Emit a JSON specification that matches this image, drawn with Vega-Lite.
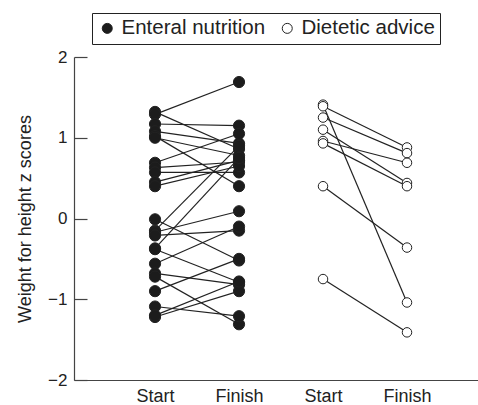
{
  "$schema": "https://vega.github.io/schema/vega-lite/v6.json",
  "width": 404,
  "height": 323,
  "autosize": {"type": "none"},
  "padding": {"left": 74, "top": 57, "right": 0, "bottom": 25},
  "background": "white",
  "config": {
    "view": {"stroke": null},
    "font": "Liberation Sans"
  },
  "data": {
    "values": [
      {"id": "E1", "group": "Enteral nutrition", "col": "ES", "z": 1.32},
      {"id": "E1", "group": "Enteral nutrition", "col": "EF", "z": 0.86},
      {"id": "E2", "group": "Enteral nutrition", "col": "ES", "z": 1.29},
      {"id": "E2", "group": "Enteral nutrition", "col": "EF", "z": 1.69},
      {"id": "E3", "group": "Enteral nutrition", "col": "ES", "z": 1.17},
      {"id": "E3", "group": "Enteral nutrition", "col": "EF", "z": 1.15},
      {"id": "E4", "group": "Enteral nutrition", "col": "ES", "z": 1.08},
      {"id": "E4", "group": "Enteral nutrition", "col": "EF", "z": 0.93},
      {"id": "E5", "group": "Enteral nutrition", "col": "ES", "z": 1.02},
      {"id": "E5", "group": "Enteral nutrition", "col": "EF", "z": 0.40},
      {"id": "E6", "group": "Enteral nutrition", "col": "ES", "z": 1.0},
      {"id": "E6", "group": "Enteral nutrition", "col": "EF", "z": 0.78},
      {"id": "E7", "group": "Enteral nutrition", "col": "ES", "z": 0.69},
      {"id": "E7", "group": "Enteral nutrition", "col": "EF", "z": 1.05},
      {"id": "E8", "group": "Enteral nutrition", "col": "ES", "z": 0.63},
      {"id": "E8", "group": "Enteral nutrition", "col": "EF", "z": 0.70},
      {"id": "E9", "group": "Enteral nutrition", "col": "ES", "z": 0.57},
      {"id": "E9", "group": "Enteral nutrition", "col": "EF", "z": 0.57},
      {"id": "E10", "group": "Enteral nutrition", "col": "ES", "z": 0.45},
      {"id": "E10", "group": "Enteral nutrition", "col": "EF", "z": 0.72},
      {"id": "E11", "group": "Enteral nutrition", "col": "ES", "z": 0.40},
      {"id": "E11", "group": "Enteral nutrition", "col": "EF", "z": 0.65},
      {"id": "E12", "group": "Enteral nutrition", "col": "ES", "z": -0.01},
      {"id": "E12", "group": "Enteral nutrition", "col": "EF", "z": -0.52},
      {"id": "E13", "group": "Enteral nutrition", "col": "ES", "z": -0.15},
      {"id": "E13", "group": "Enteral nutrition", "col": "EF", "z": 0.90},
      {"id": "E14", "group": "Enteral nutrition", "col": "ES", "z": -0.17},
      {"id": "E14", "group": "Enteral nutrition", "col": "EF", "z": 0.09},
      {"id": "E15", "group": "Enteral nutrition", "col": "ES", "z": -0.21},
      {"id": "E15", "group": "Enteral nutrition", "col": "EF", "z": -0.15},
      {"id": "E16", "group": "Enteral nutrition", "col": "ES", "z": -0.37},
      {"id": "E16", "group": "Enteral nutrition", "col": "EF", "z": 0.75},
      {"id": "E17", "group": "Enteral nutrition", "col": "ES", "z": -0.38},
      {"id": "E17", "group": "Enteral nutrition", "col": "EF", "z": -0.79},
      {"id": "E18", "group": "Enteral nutrition", "col": "ES", "z": -0.56},
      {"id": "E18", "group": "Enteral nutrition", "col": "EF", "z": -0.10},
      {"id": "E19", "group": "Enteral nutrition", "col": "ES", "z": -0.68},
      {"id": "E19", "group": "Enteral nutrition", "col": "EF", "z": -0.82},
      {"id": "E20", "group": "Enteral nutrition", "col": "ES", "z": -0.72},
      {"id": "E20", "group": "Enteral nutrition", "col": "EF", "z": -1.31},
      {"id": "E21", "group": "Enteral nutrition", "col": "ES", "z": -0.90},
      {"id": "E21", "group": "Enteral nutrition", "col": "EF", "z": -0.50},
      {"id": "E22", "group": "Enteral nutrition", "col": "ES", "z": -1.09},
      {"id": "E22", "group": "Enteral nutrition", "col": "EF", "z": -1.21},
      {"id": "E23", "group": "Enteral nutrition", "col": "ES", "z": -1.22},
      {"id": "E23", "group": "Enteral nutrition", "col": "EF", "z": -0.90},
      {"id": "E24", "group": "Enteral nutrition", "col": "ES", "z": -1.20},
      {"id": "E24", "group": "Enteral nutrition", "col": "EF", "z": -0.78},
      {"id": "D1", "group": "Dietetic advice", "col": "DS", "z": 1.41},
      {"id": "D1", "group": "Dietetic advice", "col": "DF", "z": -1.04},
      {"id": "D2", "group": "Dietetic advice", "col": "DS", "z": 1.39},
      {"id": "D2", "group": "Dietetic advice", "col": "DF", "z": 0.88},
      {"id": "D3", "group": "Dietetic advice", "col": "DS", "z": 1.25},
      {"id": "D3", "group": "Dietetic advice", "col": "DF", "z": 0.81},
      {"id": "D4", "group": "Dietetic advice", "col": "DS", "z": 1.10},
      {"id": "D4", "group": "Dietetic advice", "col": "DF", "z": 0.44},
      {"id": "D5", "group": "Dietetic advice", "col": "DS", "z": 0.96},
      {"id": "D5", "group": "Dietetic advice", "col": "DF", "z": 0.69},
      {"id": "D6", "group": "Dietetic advice", "col": "DS", "z": 0.93},
      {"id": "D6", "group": "Dietetic advice", "col": "DF", "z": 0.40},
      {"id": "D7", "group": "Dietetic advice", "col": "DS", "z": 0.40},
      {"id": "D7", "group": "Dietetic advice", "col": "DF", "z": -0.36},
      {"id": "D8", "group": "Dietetic advice", "col": "DS", "z": -0.75},
      {"id": "D8", "group": "Dietetic advice", "col": "DF", "z": -1.41}
    ]
  },
  "encoding": {
    "x": {
      "field": "col",
      "type": "nominal",
      "sort": null,
      "scale": {"type": "point", "domain": ["ES", "EF", "DS", "DF"], "padding": 0.905, "align": 0.533},
      "axis": {
        "title": null,
        "ticks": false,
        "labelAngle": 0,
        "labelExpr": "(datum.value == 'ES' || datum.value == 'DS') ? 'Start' : 'Finish'",
        "labelFontSize": 18,
        "labelColor": "#222",
        "labelPadding": 7,
        "domainColor": "#444",
        "domainWidth": 1.2,
        "grid": false
      }
    },
    "y": {
      "field": "z",
      "type": "quantitative",
      "scale": {"domain": [-2, 2], "nice": false, "zero": false},
      "axis": {
        "title": "Weight for height z scores",
        "titleFontSize": 18,
        "titleFontWeight": "normal",
        "titleColor": "#222",
        "titlePadding": 13,
        "values": [-2, -1, 0, 1, 2],
        "tickSize": -13,
        "tickColor": "#444",
        "tickWidth": 1.2,
        "labelPadding": 20,
        "labelFontSize": 17,
        "labelColor": "#222",
        "domainColor": "#444",
        "domainWidth": 1.2,
        "grid": false
      }
    },
    "fill": {
      "field": "group",
      "type": "nominal",
      "scale": {"domain": ["Enteral nutrition", "Dietetic advice"], "range": ["#1c1c1c", "#ffffff"]},
      "legend": {
        "title": null,
        "orient": "none",
        "legendX": 18,
        "legendY": -44,
        "direction": "horizontal",
        "strokeColor": "#222",
        "padding": 5,
        "labelFontSize": 20.5,
        "labelColor": "#222",
        "labelOffset": 4,
        "columnPadding": 11,
        "symbolType": "circle",
        "symbolSize": 100,
        "symbolStrokeColor": "#222",
        "symbolStrokeWidth": 1
      }
    }
  },
  "layer": [
    {
      "mark": {"type": "line", "color": "#222", "strokeWidth": 1.2},
      "encoding": {"detail": {"field": "id"}, "fill": null}
    },
    {
      "transform": [{"filter": "datum.group == 'Enteral nutrition'"}],
      "mark": {"type": "point", "shape": "circle", "filled": true, "stroke": "#222", "strokeWidth": 1, "opacity": 1, "size": 125}
    },
    {
      "transform": [{"filter": "datum.group == 'Dietetic advice'"}],
      "mark": {"type": "point", "shape": "circle", "filled": true, "stroke": "#222", "strokeWidth": 1, "opacity": 1, "size": 90}
    }
  ]
}
